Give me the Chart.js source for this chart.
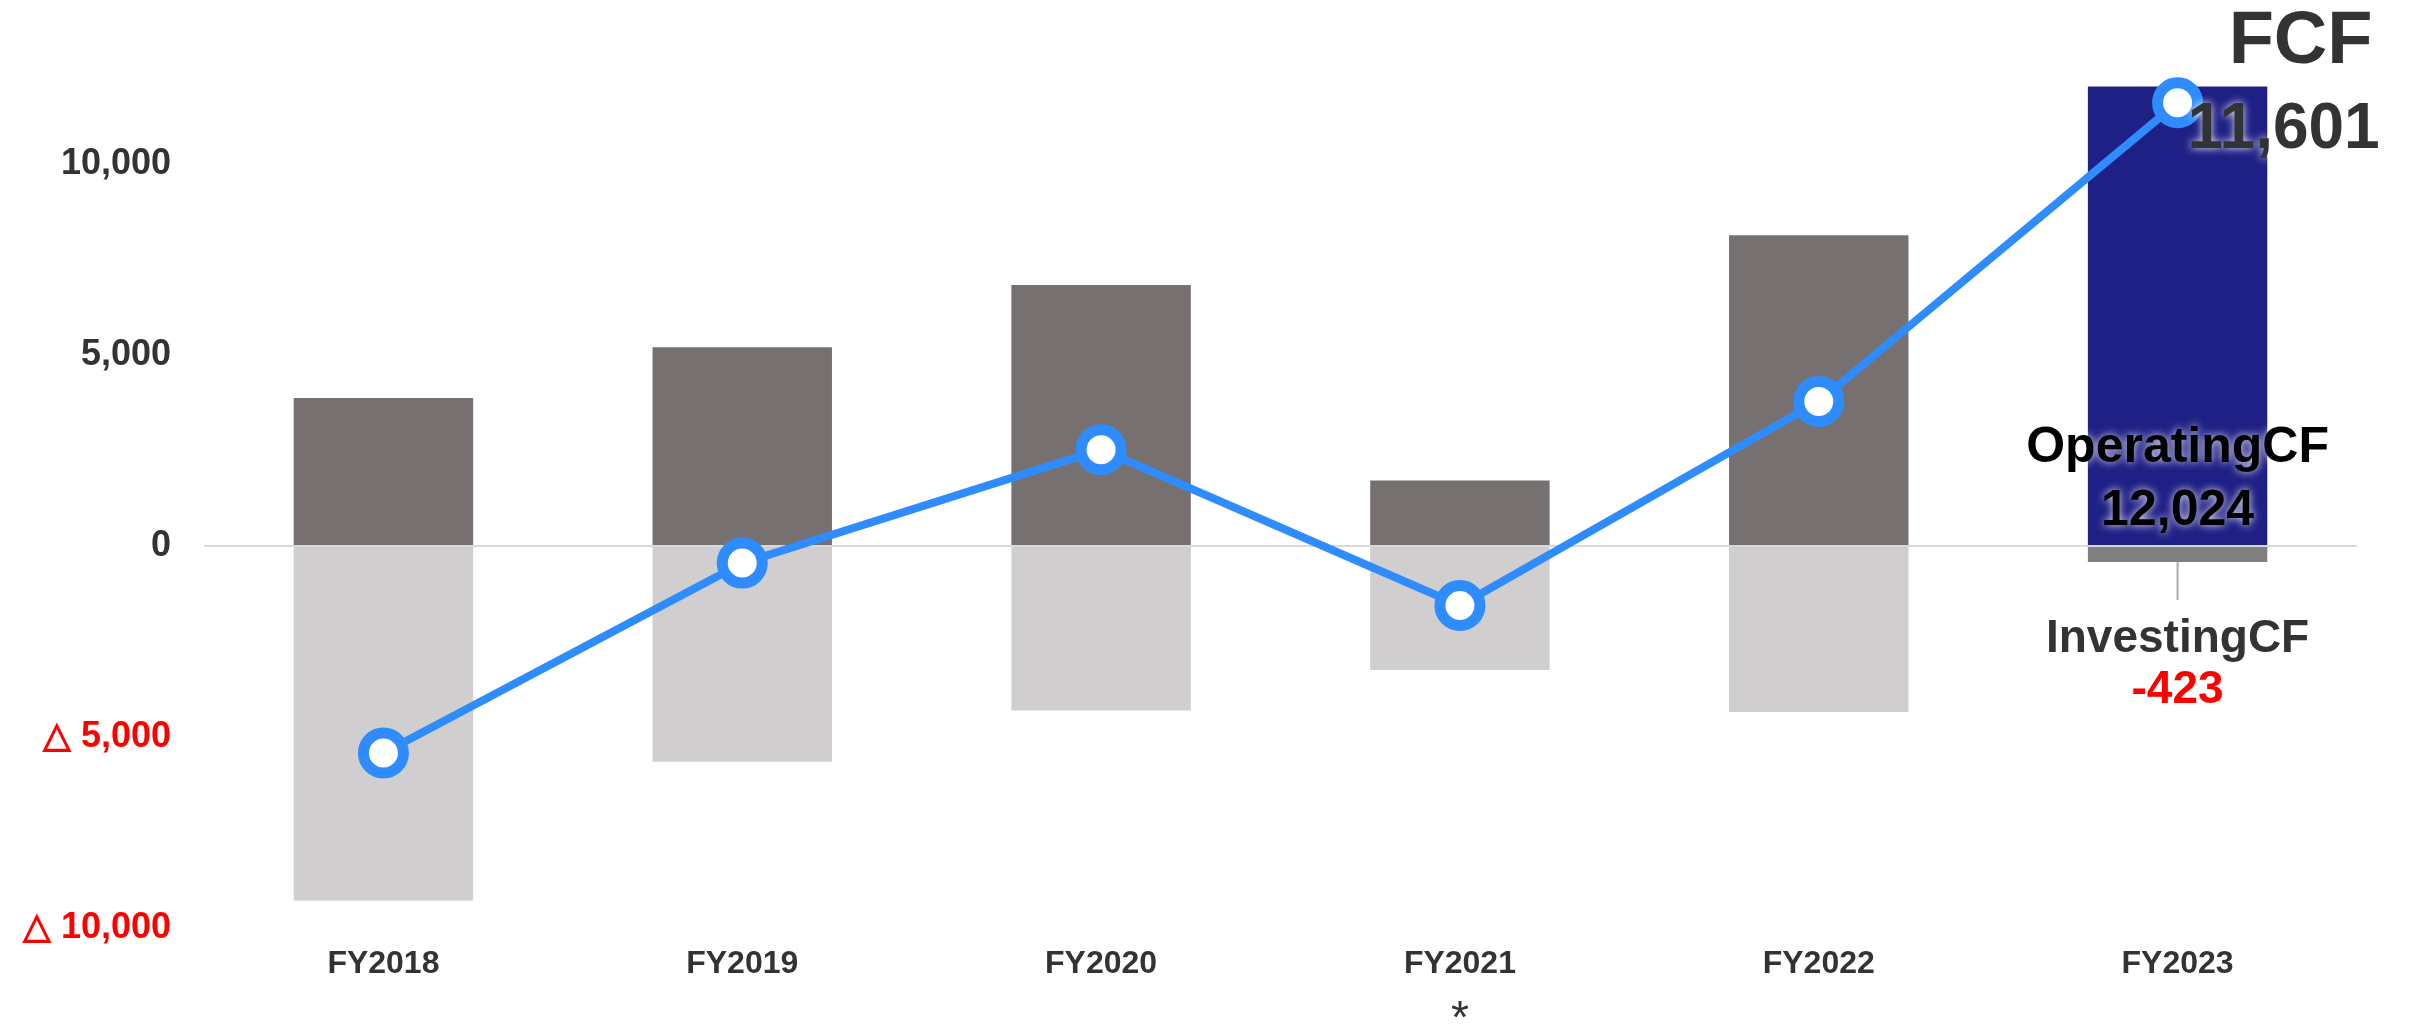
<!DOCTYPE html>
<html>
<head>
<meta charset="utf-8">
<script src="https://cdn.jsdelivr.net/npm/chart.js@4"></script>
<style>
  body { margin: 0; background: #fff; }
  #wrap { width: 2433px; height: 1026px; }
</style>
</head>
<body>
<div id="wrap"><canvas id="cf" width="2433" height="1026"></canvas></div>
<script>
const categories = ['FY2018', 'FY2019', 'FY2020', 'FY2021', 'FY2022', 'FY2023'];
const operatingCF = [3870, 5200, 6830, 1710, 8130, 12024];
const investingCF = [-9280, -5650, -4310, -3250, -4350, -423];
const fcf = [-5420, -450, 2520, -1560, 3780, 11601];
const yTickValues = [-10000, -5000, 0, 5000, 10000];
const footnoteAt = 'FY2021';

const opColors = ['#767170', '#767170', '#767170', '#767170', '#767170', '#1f2085'];
const invColors = ['#d0cecf', '#d0cecf', '#d0cecf', '#d0cecf', '#d0cecf', '#808080'];
const FONT = "'Liberation Sans', Arial, sans-serif";

const fmt = v => Math.abs(v).toLocaleString('en-US');

// text labels for the last year + footnote mark
const notes = {
    id: 'notes',
    afterDatasetsDraw(chart) {
        const ctx = chart.ctx;
        const xs = chart.scales.x, ys = chart.scales.y;
        const i = categories.length - 1;
        const x = xs.getPixelForValue(i);
        const zeroY = ys.getPixelForValue(0);
        const pY = ys.getPixelForValue(fcf[i]);
        const invY = ys.getPixelForValue(investingCF[i]);

        ctx.save();
        ctx.textAlign = 'center';
        ctx.textBaseline = 'middle';

        // leader line under investing bar
        ctx.strokeStyle = '#aaaaaa';
        ctx.lineWidth = 2;
        ctx.beginPath();
        ctx.moveTo(x, invY);
        ctx.lineTo(x, invY + 38);
        ctx.stroke();

        ctx.fillStyle = '#333333';
        ctx.font = 'bold 74px ' + FONT;
        ctx.fillText('FCF', x + 123, pY - 60);

        ctx.shadowColor = 'rgba(255,255,255,0.9)';
        ctx.shadowBlur = 8;
        ctx.font = 'bold 64px ' + FONT;
        ctx.fillText(fmt(fcf[i]), x + 106, pY + 28);

        ctx.fillStyle = '#000000';
        ctx.font = 'bold 50px ' + FONT;
        ctx.fillText('OperatingCF', x, zeroY - 98);
        ctx.fillText(fmt(operatingCF[i]), x, zeroY - 35);
        ctx.shadowBlur = 0;

        ctx.fillStyle = '#333333';
        ctx.font = 'bold 46px ' + FONT;
        ctx.fillText('InvestingCF', x, zeroY + 93);
        ctx.fillStyle = '#ff0000';
        ctx.fillText('-' + fmt(investingCF[i]), x, zeroY + 144);

        // asterisk under FY2021
        const fx = xs.getPixelForValue(categories.indexOf(footnoteAt));
        ctx.fillStyle = '#333333';
        ctx.font = '46px ' + FONT;
        ctx.fillText('*', fx, ys.bottom + 92);
        ctx.restore();
    }
};

new Chart(document.getElementById('cf'), {
    data: {
        labels: categories,
        datasets: [
            {
                type: 'line',
                label: 'FCF',
                data: fcf,
                borderColor: '#2f8cff',
                borderWidth: 8,
                pointRadius: 20,
                pointBorderWidth: 11,
                pointBackgroundColor: '#ffffff',
                pointBorderColor: '#2f8cff',
                stack: 'fcf',
                order: 0
            },
            {
                type: 'bar',
                label: 'OperatingCF',
                data: operatingCF,
                backgroundColor: opColors,
                stack: 'cf',
                barPercentage: 0.5,
                categoryPercentage: 1,
                order: 1
            },
            {
                type: 'bar',
                label: 'InvestingCF',
                data: investingCF,
                backgroundColor: invColors,
                stack: 'cf',
                barPercentage: 0.5,
                categoryPercentage: 1,
                order: 2
            }
        ]
    },
    options: {
        responsive: false,
        animation: false,
        layout: { autoPadding: false, padding: { top: 11, right: 76, left: 0, bottom: 0 } },
        plugins: {
            legend: { display: false },
            tooltip: { enabled: false }
        },
        scales: {
            x: {
                grid: { display: false },
                border: { display: false },
                ticks: {
                    color: '#333333',
                    padding: 9,
                    maxRotation: 0,
                    font: { family: FONT, size: 32, weight: 'bold' }
                },
                afterFit: s => { s.height = 98; }
            },
            y: {
                stacked: true,
                min: -10000,
                max: 14000,
                afterBuildTicks: s => { s.ticks = yTickValues.map(v => ({ value: v })); },
                grid: {
                    drawTicks: false,
                    color: c => (c.tick && c.tick.value === 0 ? '#d9d9d9' : 'rgba(0,0,0,0)'),
                    lineWidth: 2
                },
                border: { display: false },
                ticks: {
                    padding: 33,
                    color: c => (c.tick.value < 0 ? '#ff0000' : '#333333'),
                    font: { family: FONT, size: 36, weight: 'bold' },
                    callback: v => (v < 0 ? '△ ' + fmt(v) : fmt(v))
                },
                afterFit: s => { s.width = 204; s.paddingTop = 0; s.paddingBottom = 0; }
            }
        }
    },
    plugins: [notes]
});
</script>
</body>
</html>
